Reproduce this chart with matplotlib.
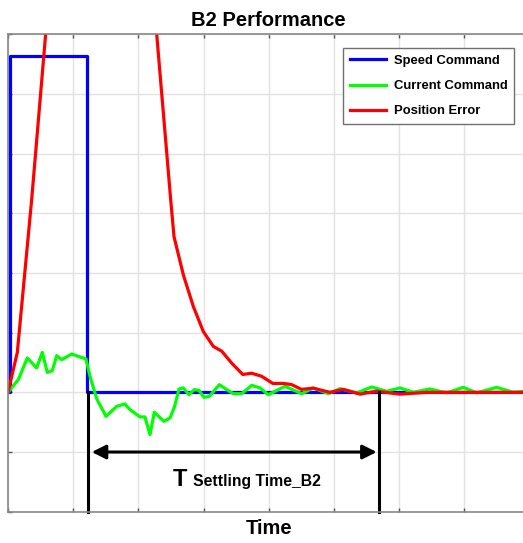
import matplotlib
matplotlib.use("Agg")
import matplotlib.pyplot as plt

plt.rcParams['font.family'] = ['Liberation Sans', 'DejaVu Sans']
plt.rcParams['font.weight'] = 'bold'

# ---- data (grid units) ----
speed_x = [0, 0.03, 0.03, 1.21, 1.21, 8.2]
speed_y = [0, 0, 5.63, 5.63, 0, 0]

current_x = [0, 0.158, 0.296, 0.440, 0.526, 0.603, 0.679, 0.747, 0.824, 0.977, 1.078, 1.196,
             1.258, 1.360, 1.503, 1.667, 1.794, 1.871, 2.025, 2.101, 2.178, 2.244, 2.393,
             2.485, 2.551, 2.623, 2.689, 2.776, 2.857, 2.929, 3.006, 3.087, 3.241, 3.354,
             3.456, 3.584, 3.738, 3.865, 3.992, 4.248, 4.505, 4.683, 4.913, 5.092, 5.348,
             5.578, 5.808, 6.012, 6.216, 6.472, 6.728, 6.983, 7.189, 7.495, 7.750, 7.95]
current_y = [0, 0.213, 0.576, 0.409, 0.670, 0.335, 0.363, 0.615, 0.548, 0.643, 0.603, 0.559,
             0.268, -0.106, -0.402, -0.235, -0.194, -0.290, -0.412, -0.412, -0.709, -0.335,
             -0.486, -0.429, -0.251, 0.057, 0.074, -0.039, 0.045, 0.034, -0.084, -0.067,
             0.129, 0.045, -0.022, -0.022, 0.117, 0.074, -0.039, 0.101, -0.022, 0.074,
             -0.022, 0.062, -0.010, 0.090, 0.017, 0.074, 0.0, 0.057, -0.010, 0.084, -0.010,
             0.084, 0.0, 0.017]

error_x = [0, 0.143, 0.363, 0.578, 1.21, 2.28, 2.495, 2.546, 2.689, 2.842, 2.995, 3.149,
           3.278, 3.431, 3.60, 3.738, 3.89, 4.06, 4.22, 4.35, 4.50, 4.68, 4.94, 5.14, 5.40,
           5.65, 6.01, 6.42, 8.2]
error_y = [0, 0.67, 3.23, 6.01, 14.0, 6.01, 3.23, 2.61, 1.97, 1.44, 1.02, 0.77, 0.69, 0.49,
           0.30, 0.32, 0.27, 0.15, 0.15, 0.13, 0.05, 0.07, 0.0, 0.05, -0.03, 0.02, -0.03,
           0.0, 0.0]

settle_start = 1.222
settle_end = 5.695
arrow_left = 1.284
arrow_right = 5.655
arrow_y = -1.0

W, H = 523, 543
fig = plt.figure(figsize=(W / 100, H / 100), dpi=100)
ax = fig.add_axes([8 / W, (H - 511.7) / H, 521.6 / W, 477.4 / H])

ax.set_xlim(0, 8)
ax.set_ylim(-2, 6)
ax.set_xticks(range(0, 9))
ax.set_yticks(range(-2, 7))
ax.grid(True, color='#e2e2e2', lw=1.0)
ax.set_axisbelow(True)
ax.tick_params(direction='in', length=3, width=1, color='#555555', top=True, right=True,
               labelbottom=False, labelleft=False)
for s in ax.spines.values():
    s.set_color('#888888')
    s.set_linewidth(1.2)

ax.plot(speed_x, speed_y, color='#0000ff', lw=2.3, label='Speed Command')
ax.plot(current_x, current_y, color='#00ff00', lw=2.3, label='Current Command')
ax.plot(error_x, error_y, color='#ff0000', lw=2.3, label='Position Error')

ax.plot([settle_start, settle_start], [0, -2], color='k', lw=2.2, clip_on=False)
ax.plot([settle_end, settle_end], [0, -2], color='k', lw=2.2, clip_on=False)
ax.annotate('', xy=(arrow_left, arrow_y), xytext=(arrow_right, arrow_y),
            arrowprops=dict(arrowstyle='<|-|>', lw=2.2, color='k', mutation_scale=21,
                            shrinkA=0, shrinkB=0))
ax.text(2.526, -1.575, 'T', fontsize=17, fontweight='bold', va='baseline', ha='left')
ax.text(2.842, -1.575, 'Settling Time_B2', fontsize=11.3, fontweight='bold',
        va='baseline', ha='left')

ax.set_title('B2 Performance', fontsize=14.5, fontweight='bold', pad=6.2)
ax.set_xlabel('Time', fontsize=14.5, fontweight='bold', labelpad=5)

leg = ax.legend(loc='upper left', bbox_to_anchor=(343.3 / W, 1 - 48.3 / H),
                bbox_transform=fig.transFigure, borderaxespad=0, fontsize=9.4,
                handlelength=2.8, handletextpad=0.6, borderpad=0.5, labelspacing=1.0,
                fancybox=False, framealpha=1, edgecolor='#707070')
leg.get_frame().set_linewidth(1.0)
for t in leg.get_texts():
    t.set_fontweight('bold')

fig.savefig('out.png', dpi=100)
